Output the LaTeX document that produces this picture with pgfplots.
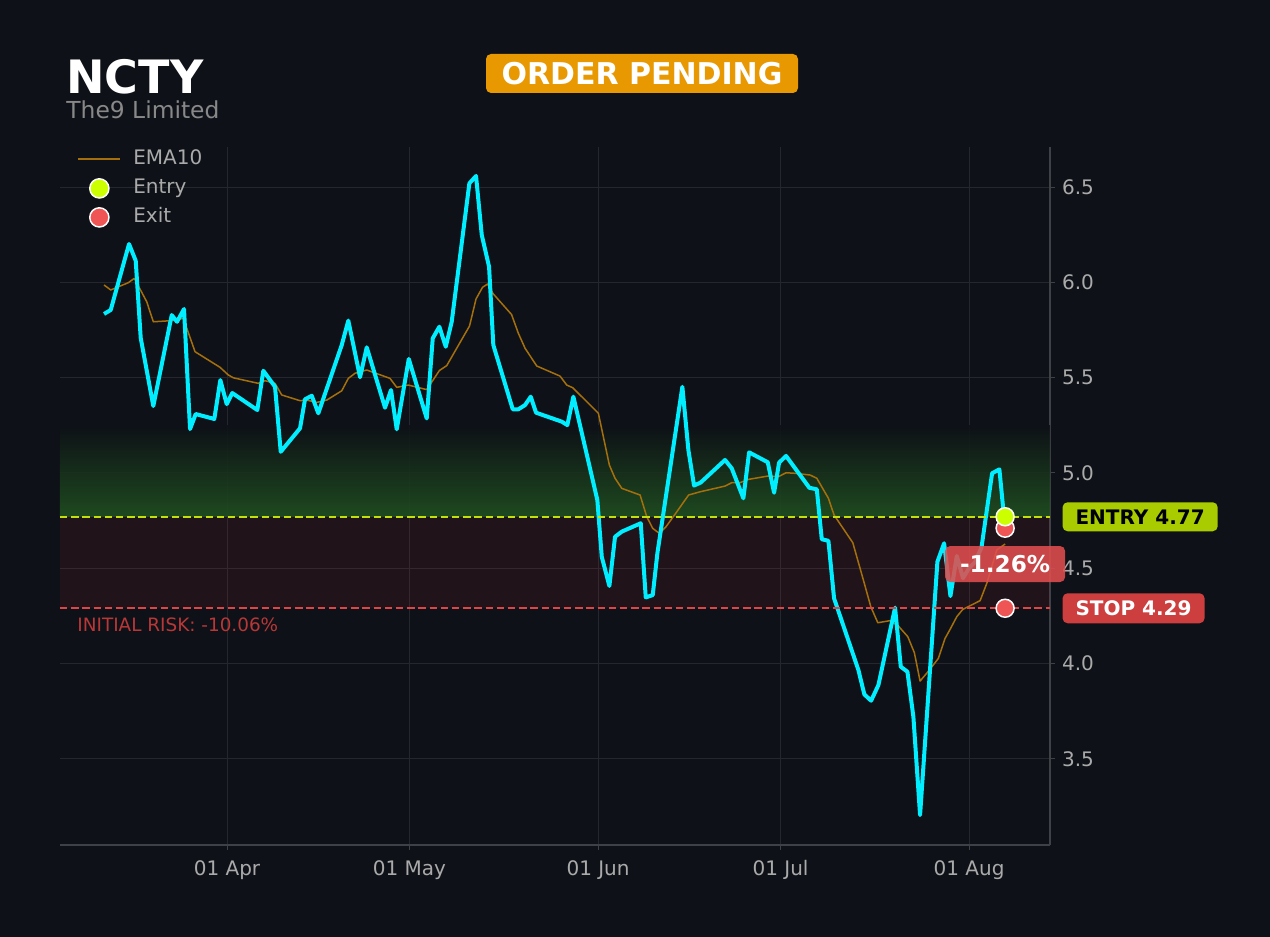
\documentclass[border=0pt]{standalone}
\usepackage{pgfplots}
\pgfplotsset{compat=1.18}
\usepackage{fontspec}
\setmainfont{DejaVu Sans}
\definecolor{bg}{RGB}{14,17,23}
\definecolor{gridc}{RGB}{36,39,45}
\definecolor{spine}{RGB}{62,65,70}
\definecolor{tickgray}{RGB}{170,170,170}
\definecolor{subgray}{RGB}{136,136,136}
\definecolor{pricec}{RGB}{0,238,255}
\definecolor{emac}{RGB}{165,112,12}
\definecolor{entryline}{RGB}{196,224,10}
\definecolor{entrylab}{RGB}{168,204,0}
\definecolor{entrydot}{RGB}{204,255,0}
\definecolor{stopline}{RGB}{220,70,70}
\definecolor{stoplab}{RGB}{205,62,62}
\definecolor{exitdot}{RGB}{240,85,85}
\definecolor{pnlc}{RGB}{224,78,78}
\definecolor{riskc}{RGB}{185,55,55}
\definecolor{redzone}{RGB}{200,45,60}
\definecolor{greenzone}{RGB}{32,80,32}
\definecolor{badge}{RGB}{232,152,0}
\pgfplotsset{
  lineleg/.style={legend image code/.code={\draw[##1] (0cm,0cm) -- (0.74cm,0cm);}},
  dotleg/.style={legend image code/.code={\draw[##1] plot coordinates {(0.37cm,0cm)};}},
}

\pgfplotstableread{
d v
70.78 5.834
71.88 5.855
74.89 6.201
75.99 6.113
76.81 5.708
78.88 5.351
81.91 5.828
82.78 5.793
83.93 5.860
84.92 5.230
85.85 5.309
88.91 5.283
89.90 5.487
90.95 5.361
91.87 5.419
95.98 5.330
96.97 5.536
98.89 5.452
99.83 5.111
103.00 5.234
103.82 5.386
104.93 5.405
106.01 5.313
109.86 5.671
110.94 5.799
112.87 5.502
113.97 5.659
116.98 5.342
117.96 5.435
118.90 5.229
120.88 5.598
123.83 5.286
124.82 5.706
125.91 5.767
126.96 5.662
127.94 5.793
130.84 6.519
131.94 6.558
132.88 6.248
134.08 6.082
134.78 5.671
137.97 5.334
138.90 5.334
140.00 5.356
140.93 5.400
141.81 5.316
146.03 5.269
146.95 5.251
147.94 5.400
151.88 4.858
152.61 4.560
153.86 4.407
154.79 4.665
155.90 4.692
159.02 4.736
159.84 4.347
160.99 4.359
161.75 4.578
165.86 5.452
166.85 5.120
167.78 4.934
168.85 4.949
172.88 5.068
173.98 5.024
175.89 4.867
176.83 5.108
179.90 5.056
180.94 4.896
181.76 5.054
182.91 5.089
186.74 4.922
187.96 4.914
188.78 4.652
189.87 4.644
190.80 4.342
194.80 3.966
195.78 3.838
196.89 3.805
198.09 3.887
200.83 4.293
201.77 3.983
202.86 3.957
203.84 3.721
204.94 3.205
207.79 4.534
208.89 4.631
209.93 4.354
210.98 4.564
212.00 4.448
213.00 4.501
214.00 4.533
215.05 4.611
216.78 4.998
217.98 5.019
218.92 4.710
}\pricetab

\pgfplotstableread{
d v
70.78 5.986
71.88 5.960
74.77 5.998
75.76 6.021
77.80 5.898
78.88 5.793
81.91 5.799
83.81 5.811
85.74 5.636
89.85 5.554
91.21 5.514
92.04 5.499
96.15 5.470
97.25 5.484
98.89 5.470
99.99 5.409
103.00 5.379
104.10 5.382
105.75 5.370
107.39 5.382
109.86 5.431
110.94 5.496
112.05 5.523
113.97 5.540
117.80 5.496
118.90 5.449
120.81 5.461
123.83 5.437
125.91 5.537
127.12 5.563
130.87 5.771
131.94 5.913
133.01 5.974
133.83 5.991
134.78 5.939
137.78 5.831
138.90 5.732
140.00 5.654
141.92 5.561
145.75 5.508
146.85 5.461
147.84 5.447
152.05 5.313
153.86 5.041
154.79 4.972
155.90 4.919
158.91 4.884
160.01 4.770
160.99 4.709
162.08 4.683
163.18 4.718
164.94 4.796
166.88 4.884
168.77 4.901
172.88 4.931
173.98 4.949
175.35 4.949
176.71 4.966
180.00 4.984
181.64 4.980
182.91 5.001
184.39 4.998
186.86 4.989
187.96 4.972
189.87 4.867
190.80 4.779
193.88 4.634
195.62 4.438
196.84 4.298
197.99 4.214
200.01 4.225
201.37 4.197
202.92 4.141
204.00 4.057
204.94 3.908
206.47 3.966
207.95 4.027
209.05 4.132
209.87 4.179
210.98 4.246
211.96 4.284
214.81 4.330
215.91 4.421
217.55 4.596
218.92 4.627
}\ematab

\begin{document}
\begin{tikzpicture}
\fill[bg] (0,0) rectangle (635pt,468.5pt);
\node[anchor=base west, text=white, font=\fontsize{23}{26}\selectfont\bfseries, inner sep=0] at (33pt,421.5pt) {NCTY};
\node[anchor=base west, text=subgray, font=\fontsize{11.7}{14}\selectfont, inner sep=0] at (33pt,409pt) {The9 Limited};
\node[fill=badge, rounded corners=2.5pt, text=white, font=\fontsize{15}{18}\selectfont\bfseries, minimum width=156pt, minimum height=19.5pt, inner sep=0] at (321pt,431.75pt) {ORDER PENDING};
\begin{axis}[
  at={(30pt,46pt)}, anchor=south west,
  width=495pt, height=349pt, scale only axis,
  xmin=63.54, xmax=226.3, ymin=3.048, ymax=6.71,
  axis x line*=bottom, axis y line*=right,
  axis line style={color=spine, line width=0.6pt},
  xtick={91,121,152,182,213},
  xticklabels={01 Apr,01 May,01 Jun,01 Jul,01 Aug},
  ytick={3.5,4.0,4.5,5.0,5.5,6.0,6.5},
  yticklabels={3.5,4.0,4.5,5.0,5.5,6.0,6.5},
  tick align=outside, major tick length=2.5pt,
  tick style={color=spine, line width=0.5pt},
  tick label style={font=\fontsize{10}{12}\selectfont, text=tickgray},
  xticklabel style={text height=7.6pt, text depth=2.4pt, yshift=-1.5pt},
  grid=major, grid style={color=gridc, line width=0.5pt},
  clip=false,
  legend style={at={(0,1)}, anchor=north west, xshift=5.5pt, yshift=3pt,
    draw=none, fill=none, text=tickgray, font=\fontsize{10}{12}\selectfont,
    nodes={inner sep=2pt, text height=7.5pt, text depth=2.5pt},
    row sep=0.5pt,
    /tikz/every odd column/.append style={column sep=4pt}},
  legend cell align=left,
]
% zones
\addplot[draw=none, fill=redzone, fill opacity=0.1, forget plot] coordinates {(63.54,4.29)(226.3,4.29)(226.3,4.77)(63.54,4.77)} -- cycle;
\addplot[draw=none, top color=bg, bottom color=greenzone, fill opacity=0.9, forget plot] coordinates {(63.54,4.77)(226.3,4.77)(226.3,5.25)(63.54,5.25)} -- cycle;

\addlegendimage{draw=emac, line width=0.9pt, lineleg}
\addlegendentry{EMA10}
\addlegendimage{only marks, mark=*, mark size=4.8pt, mark options={fill=entrydot, draw=white, line width=0.75pt}, dotleg}
\addlegendentry{Entry}
\addlegendimage{only marks, mark=*, mark size=4.8pt, mark options={fill=exitdot, draw=white, line width=0.75pt}, dotleg}
\addlegendentry{Exit}

\addplot[emac, line width=0.75pt, line join=round, forget plot] table[x=d, y=v] {\ematab};
\addplot[pricec, line width=2pt, line join=round, forget plot] table[x=d, y=v] {\pricetab};

\addplot[entryline, line width=1.1pt, dash pattern=on 3.7pt off 1.9pt, forget plot] coordinates {(63.54,4.77)(226.3,4.77)};
\addplot[stopline, line width=1.1pt, dash pattern=on 3.7pt off 1.9pt, forget plot] coordinates {(63.54,4.29)(226.3,4.29)};

\addplot[only marks, mark=*, mark size=4.5pt, mark options={fill=exitdot, draw=white, line width=0.75pt}, forget plot] coordinates {(218.92,4.71)(218.92,4.29)};
\addplot[only marks, mark=*, mark size=4.5pt, mark options={fill=entrydot, draw=white, line width=0.75pt}, forget plot] coordinates {(218.92,4.77)};

\node[fill=pnlc, fill opacity=0.88, text opacity=1, rounded corners=2.5pt, text=white, font=\fontsize{11.6}{14}\selectfont\bfseries, minimum width=60pt, minimum height=18pt, inner sep=0] at (axis cs:218.92,4.522) {-1.26\%};
\node[anchor=west, fill=entrylab, rounded corners=2.5pt, text=black, font=\fontsize{10}{12}\selectfont\bfseries, inner xsep=6.5pt, inner ysep=0pt, minimum height=14.5pt] at (axis cs:228.3,4.77) {ENTRY 4.77};
\node[anchor=west, fill=stoplab, rounded corners=2.5pt, text=white, font=\fontsize{10}{12}\selectfont\bfseries, inner xsep=6.5pt, inner ysep=0pt, minimum height=15pt] at (axis cs:228.3,4.29) {STOP 4.29};
\node[anchor=west, text=riskc, font=\fontsize{9.2}{11}\selectfont, inner sep=0] at (axis cs:66.34,4.202) {INITIAL RISK: -10.06\%};
\end{axis}
\end{tikzpicture}
\end{document}
